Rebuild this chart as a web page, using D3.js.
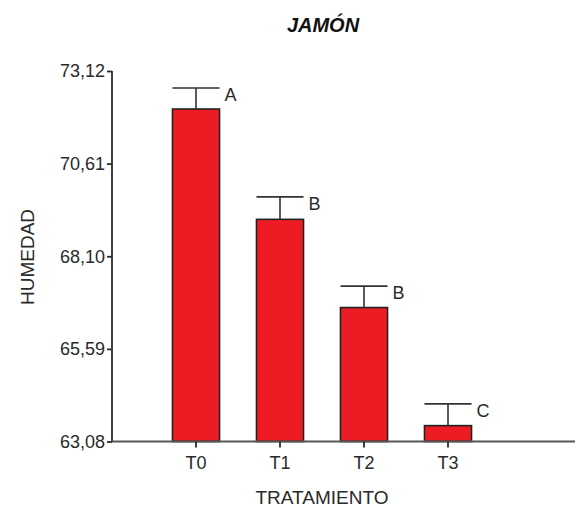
<!DOCTYPE html>
<html><head><meta charset="utf-8">
<script src="https://cdn.jsdelivr.net/npm/d3@7"></script>
<style>body{margin:0;background:#fff}svg{display:block}</style>
</head><body>
<svg id="c" width="575" height="508"></svg>
<script>
const categories = ["T0","T1","T2","T3"];
const means = [72.09, 69.10, 66.71, 63.51];
const errors = [0.57, 0.61, 0.58, 0.59];
const letters = ["A","B","B","C"];
const yTicks = [63.08, 65.59, 68.10, 70.61, 73.12];
const title = "JAMÓN";
const xTitle = "TRATAMIENTO";
const yTitle = "HUMEDAD";

const svg = d3.select("#c");
const font = "Liberation Sans, Arial, sans-serif";
const axisColor = "#2b2b2b";

const y = d3.scaleLinear().domain([63.08, 73.12]).range([441.5, 71]);
const x = d3.scaleBand().domain(categories).range([154, 490]).paddingInner(0.44).paddingOuter(0.22);

// title
svg.append("text").attr("x", 323).attr("y", 32).attr("text-anchor","middle")
  .attr("font-family", font).attr("font-size", 20).attr("font-weight","bold").attr("font-style","italic")
  .attr("fill","#111").text(title);

// bars
svg.append("g").selectAll("rect").data(categories).join("rect")
  .attr("x", d => x(d)).attr("width", x.bandwidth())
  .attr("y", (d,i) => y(means[i])).attr("height", (d,i) => y(63.08) - y(means[i]))
  .attr("fill", "#ED1C24").attr("stroke", "#222").attr("stroke-width", 1.6);

// error bars
const eg = svg.append("g").attr("stroke", "#333").attr("stroke-width", 1.6);
categories.forEach((c,i) => {
  const cx = x(c) + x.bandwidth()/2;
  eg.append("line").attr("x1", cx).attr("x2", cx).attr("y1", y(means[i])).attr("y2", y(means[i]+errors[i]));
  eg.append("line").attr("x1", x(c)).attr("x2", x(c)+x.bandwidth()).attr("y1", y(means[i]+errors[i])).attr("y2", y(means[i]+errors[i]));
  svg.append("text").attr("x", x(c)+x.bandwidth()+5).attr("y", y(means[i]+errors[i]) + 13)
    .attr("font-family", font).attr("font-size", 18).attr("fill", "#2a2a2a").text(letters[i]);
});

// y axis
const yAxis = d3.axisLeft(y).tickValues(yTicks).tickSize(5).tickPadding(2)
  .tickFormat(d => d3.format(".2f")(d).replace(".", ","));
const ya = svg.append("g").attr("transform", "translate(112,0)").call(yAxis);
ya.select(".domain").attr("stroke", axisColor).attr("stroke-width", 1.8).attr("d", `M0,${y(73.12)}V${y(63.08)}`);
ya.selectAll(".tick line").attr("stroke", axisColor).attr("stroke-width", 1.8);
ya.selectAll("text").attr("font-family", font).attr("font-size", 18).attr("fill", "#2a2a2a");

// x axis
const xAxis = d3.axisBottom(x).tickSize(6).tickPadding(9);
const xa = svg.append("g").attr("transform", `translate(0,${y(63.08)})`).call(xAxis);
xa.select(".domain").attr("stroke", "#555").attr("stroke-width", 2.2).attr("d", "M112,0H575");
xa.selectAll(".tick line").attr("stroke", axisColor).attr("stroke-width", 1.8);
xa.selectAll("text").attr("font-family", font).attr("font-size", 18).attr("fill", "#2a2a2a");

// axis titles
svg.append("text").attr("x", 322).attr("y", 504).attr("text-anchor","middle")
  .attr("font-family", font).attr("font-size", 19).attr("fill","#2a2a2a").text(xTitle);
svg.append("text").attr("transform", "translate(34,257) rotate(-90)").attr("text-anchor","middle")
  .attr("font-family", font).attr("font-size", 19).attr("fill","#2a2a2a").text(yTitle);
</script>
</body></html>
